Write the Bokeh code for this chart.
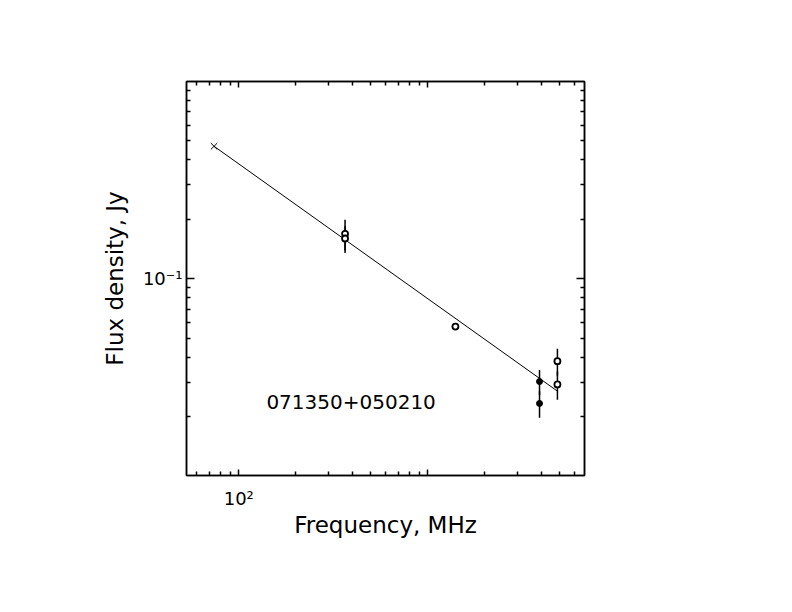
from bokeh.plotting import figure
from bokeh.models import LogAxis, FixedTicker, Label
from bokeh.embed import file_html
from bokeh.resources import INLINE

# ---- data ----
source_name = "071350+050210"

# VLSS 74 MHz (cross)
vlss_freq = [74.0]
vlss_flux = [0.469]

# open circles with error bars
open_freq = [365.0, 365.0, 1400.0, 4850.0, 4850.0]
open_flux = [0.169, 0.160, 0.0573, 0.0383, 0.0292]
open_lo = [0.139, 0.135, 0.0556, 0.0323, 0.0244]
open_hi = [0.199, 0.185, 0.0590, 0.0443, 0.0340]

# filled points (3.9 GHz)
fill_freq = [3900.0, 3900.0]
fill_flux = [0.0302, 0.0234]
fill_lo = [0.0258, 0.0198]
fill_hi = [0.0346, 0.0270]

# fitted power law
fit_freq = [74.0, 4850.0]
fit_flux = [0.469, 0.0270]

x_major = [100, 1000]
x_major_labels = ["10\u00b2", ""]
x_minor = [60, 70, 80, 90, 200, 300, 400, 500, 600, 700, 800, 900,
           2000, 3000, 4000, 5000, 6000]
y_major = [0.1]
y_major_labels = ["10\u207b\u00b9"]
y_minor = [0.02, 0.03, 0.04, 0.05, 0.06, 0.07, 0.08, 0.09,
           0.2, 0.3, 0.4, 0.5, 0.6, 0.7, 0.8, 0.9]

FONT = "DejaVu Sans"

p = figure(width=776, height=596, x_axis_type="log", y_axis_type="log",
           x_range=(52.9, 6745), y_range=(0.0101, 0.998),
           output_backend="svg", toolbar_location=None,
           min_border_left=186, min_border_right=192,
           min_border_top=81, min_border_bottom=121)
p.grid.visible = False
p.outline_line_color = "black"
p.outline_line_width = 1.5
p.background_fill_color = "white"
p.border_fill_color = "white"

xt = FixedTicker(ticks=x_major, minor_ticks=x_minor)
yt = FixedTicker(ticks=y_major, minor_ticks=y_minor)

def style(ax, ticker, maj_len, labels=None):
    ax.ticker = ticker
    ax.axis_line_color = "black"
    ax.axis_line_width = 1.5
    ax.major_tick_in = maj_len
    ax.major_tick_out = 0
    ax.minor_tick_in = 4
    ax.minor_tick_out = 0
    ax.major_tick_line_width = 1.5
    ax.minor_tick_line_width = 1.5
    ax.major_tick_line_color = "black"
    ax.minor_tick_line_color = "black"
    if labels is None:
        ax.major_label_text_font_size = "0px"
        ax.major_label_text_color = None
    else:
        ax.major_label_overrides = labels
        ax.major_label_text_font = FONT
        ax.major_label_text_font_size = "18px"
        ax.major_label_text_color = "black"

xa = p.xaxis[0]
ya = p.yaxis[0]
style(xa, xt, 6, {float(v): s for v, s in zip(x_major, x_major_labels)})
style(ya, yt, 8, {float(v): s for v, s in zip(y_major, y_major_labels)})
xa.major_label_standoff = 12
ya.major_label_standoff = 4
xa.axis_label = "Frequency, MHz"
ya.axis_label = "Flux density, Jy"
for ax in (xa, ya):
    ax.axis_label_text_font = FONT
    ax.axis_label_text_font_style = "normal"
    ax.axis_label_text_font_size = "23px"
    ax.axis_label_text_color = "black"
xa.axis_label_standoff = 0
ya.axis_label_standoff = 12

top = LogAxis()
style(top, FixedTicker(ticks=x_major, minor_ticks=x_minor), 6)
p.add_layout(top, "above")
right = LogAxis()
style(right, FixedTicker(ticks=y_major, minor_ticks=y_minor), 8)
p.add_layout(right, "right")

# error bars
p.segment(x0=open_freq, y0=open_lo, x1=open_freq, y1=open_hi,
          line_color="black", line_width=1.5)
p.segment(x0=fill_freq, y0=fill_lo, x1=fill_freq, y1=fill_hi,
          line_color="black", line_width=1.5)

# fit line
p.line(fit_freq, fit_flux, line_color="black", line_width=1)

# markers
p.scatter(vlss_freq, vlss_flux, marker="x", size=9, line_color="black",
          line_width=1)
p.scatter(open_freq, open_flux, marker="circle", size=6, fill_color="white",
          line_color="black", line_width=1.8)
p.scatter(fill_freq, fill_flux, marker="circle", size=6, fill_color="black",
          line_color="black", line_width=1)

p.add_layout(Label(x=140, y=0.0238, text=source_name, text_font=FONT,
                   text_font_size="20px", text_color="black",
                   text_align="left", text_baseline="alphabetic"))

open("out.html", "w").write(file_html(p, INLINE))
